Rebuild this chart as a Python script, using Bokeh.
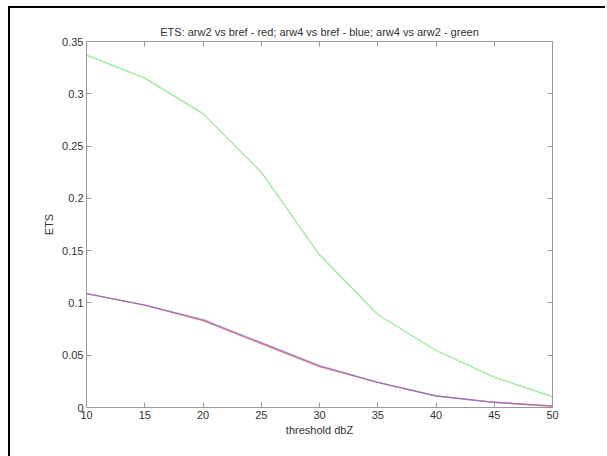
from bokeh.plotting import figure
from bokeh.models import LinearAxis, FixedTicker, Range1d
from bokeh.embed import file_html
from bokeh.resources import INLINE

thresholds = [10, 15, 20, 25, 30, 35, 40, 45, 50]
ets_arw2_bref = [0.109, 0.098, 0.083, 0.061, 0.039, 0.024, 0.0112, 0.005, 0.001]
ets_arw4_bref = [0.109, 0.098, 0.084, 0.062, 0.040, 0.024, 0.011, 0.005, 0.0015]
ets_arw4_arw2 = [0.337, 0.315, 0.281, 0.225, 0.146, 0.089, 0.0545, 0.029, 0.0105]

x_ticks = [10, 15, 20, 25, 30, 35, 40, 45, 50]
y_ticks = [0, 0.05, 0.1, 0.15, 0.2, 0.25, 0.3, 0.35]
y_tick_labels = ["0", "0.05", "0.1", "0.15", "0.2", "0.25", "0.3", "0.35"]

title_text = "ETS: arw2 vs bref - red; arw4 vs bref - blue; arw4 vs arw2 - green"

FONT = "Liberation Sans"
AX = "#9a9a9a"
TXT = "#333333"

p = figure(width=597, height=453, output_backend="svg", toolbar_location=None,
           x_range=Range1d(10, 50), y_range=Range1d(0, 0.35),
           min_border_left=76, min_border_right=55, min_border_top=0, min_border_bottom=65,
           title=title_text)
p.styles = {"border-left": "2px solid black", "border-top": "2px solid black",
            "margin-left": "8px", "margin-top": "6px", "padding-top": "11px"}

p.title.align = "center"
p.title.text_font = FONT
p.title.text_font_size = "11px"
p.title.text_font_style = "normal"
p.title.text_color = TXT
p.title.offset = 0
p.title.standoff = 8

p.grid.visible = False
p.outline_line_color = AX
p.background_fill_color = "white"
p.border_fill_color = "white"

def style_axis(ax, labels=True):
    ax.axis_line_color = AX
    ax.major_tick_line_color = AX
    ax.minor_tick_line_color = None
    ax.major_tick_in = 5
    ax.major_tick_out = 0
    ax.major_label_text_font = FONT
    ax.major_label_text_font_size = "11px"
    ax.major_label_text_color = TXT if labels else None
    ax.axis_label_text_font = FONT
    ax.axis_label_text_font_size = "11px"
    ax.axis_label_text_font_style = "normal"
    ax.axis_label_text_color = TXT
    ax.major_label_standoff = 3

style_axis(p.xaxis[0])
style_axis(p.yaxis[0])
p.xaxis[0].ticker = FixedTicker(ticks=x_ticks)
p.yaxis[0].ticker = FixedTicker(ticks=y_ticks)
p.yaxis[0].major_label_overrides = {t: l for t, l in zip(y_ticks, y_tick_labels)}
p.xaxis[0].axis_label = "threshold dbZ"
p.yaxis[0].axis_label = "ETS"
p.xaxis[0].axis_label_standoff = 2
p.yaxis[0].axis_label_standoff = 4

top_ax = LinearAxis(ticker=FixedTicker(ticks=x_ticks))
style_axis(top_ax, labels=False)
top_ax.major_label_text_font_size = "0px"
top_ax.major_label_standoff = 0
p.add_layout(top_ax, "above")

right_ax = LinearAxis(ticker=FixedTicker(ticks=y_ticks))
style_axis(right_ax, labels=False)
right_ax.major_label_text_font_size = "0px"
right_ax.major_label_standoff = 0
p.add_layout(right_ax, "right")

p.line(thresholds, ets_arw4_arw2, line_color="#98ec98", line_width=1.3)
p.line(thresholds, ets_arw2_bref, line_color="#f07c7c", line_width=1.3)
p.line(thresholds, ets_arw4_bref, line_color="#7a6cc8", line_width=1.3, line_alpha=0.75)

open("out.html", "w").write(file_html(p, INLINE))
